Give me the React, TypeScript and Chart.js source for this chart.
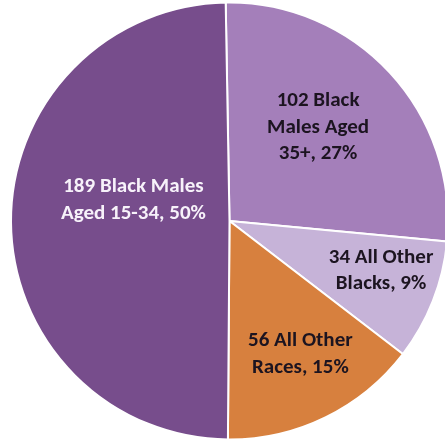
import React, { useEffect, useRef } from "react";
import { Chart, registerables } from "chart.js";

Chart.register(...registerables);

const categories = [
  "102 Black Males Aged 35+",
  "34 All Other Blacks",
  "56 All Other Races",
  "189 Black Males Aged 15-34",
];
const counts = [102, 34, 56, 189];
const labelLines = [
  ["102 Black", "Males Aged", "35+, 27%"],
  ["34 All Other", "Blacks, 9%"],
  ["56 All Other", "Races, 15%"],
  ["189 Black Males", "Aged 15-34, 50%"],
];
const sliceColors = ["#a47fba", "#c6b3d8", "#d7803e", "#774d8c"];
const labelColors = ["#1c1420", "#1c1420", "#1c1420", "#f7f2fa"];
// label placement: fraction of radius and angular shift (deg) from slice mid-angle
const labelRadiusFrac = [0.59, 0.73, 0.69, 0.45];
const labelAngleShift = [-3.8, -3.3, -2.0, 12.6];

const FONT = "Carlito, Lato, 'Open Sans', sans-serif";

const labelPlugin = {
  id: "sliceLabels",
  afterDatasetsDraw(chart: any) {
    const ctx = chart.ctx;
    const meta = chart.getDatasetMeta(0);
    ctx.save();
    ctx.font = `bold 21px ${FONT}`;
    ctx.textAlign = "center";
    ctx.textBaseline = "middle";
    const lh = 26.5;
    meta.data.forEach((arc: any, i: number) => {
      const p = arc.getProps(["x", "y", "startAngle", "endAngle", "outerRadius"], true);
      const mid = (p.startAngle + p.endAngle) / 2 + (labelAngleShift[i] * Math.PI) / 180;
      const d = p.outerRadius * labelRadiusFrac[i];
      const cx = p.x + Math.cos(mid) * d;
      const cy = p.y + Math.sin(mid) * d;
      const lines = labelLines[i];
      ctx.fillStyle = labelColors[i];
      lines.forEach((t, j) => {
        ctx.fillText(t, cx, cy + (j - (lines.length - 1) / 2) * lh);
      });
    });
    ctx.restore();
  },
};

export default function App() {
  const ref = useRef<HTMLCanvasElement>(null);
  useEffect(() => {
    if (!ref.current) return;
    const chart = new Chart(ref.current, {
      type: "pie",
      data: {
        labels: categories,
        datasets: [
          {
            data: counts,
            backgroundColor: sliceColors,
            borderColor: "#ffffff",
            borderWidth: 2,
            hoverBorderWidth: 2,
          },
        ],
      },
      options: {
        responsive: false,
        animation: false,
        rotation: -1,
        layout: { padding: { top: 1.5, bottom: 1.5, left: 0, right: 0 } },
        plugins: {
          legend: { display: false },
          tooltip: { enabled: false },
        },
      },
      plugins: [labelPlugin],
    });
    return () => chart.destroy();
  }, []);
  return (
    <div
      style={{
        position: "fixed",
        left: 0,
        top: 0,
        width: 445,
        height: 441,
        overflow: "hidden",
        background: "#ffffff",
      }}
    >
      <canvas ref={ref} width={459} height={442} style={{ display: "block" }} />
    </div>
  );
}
